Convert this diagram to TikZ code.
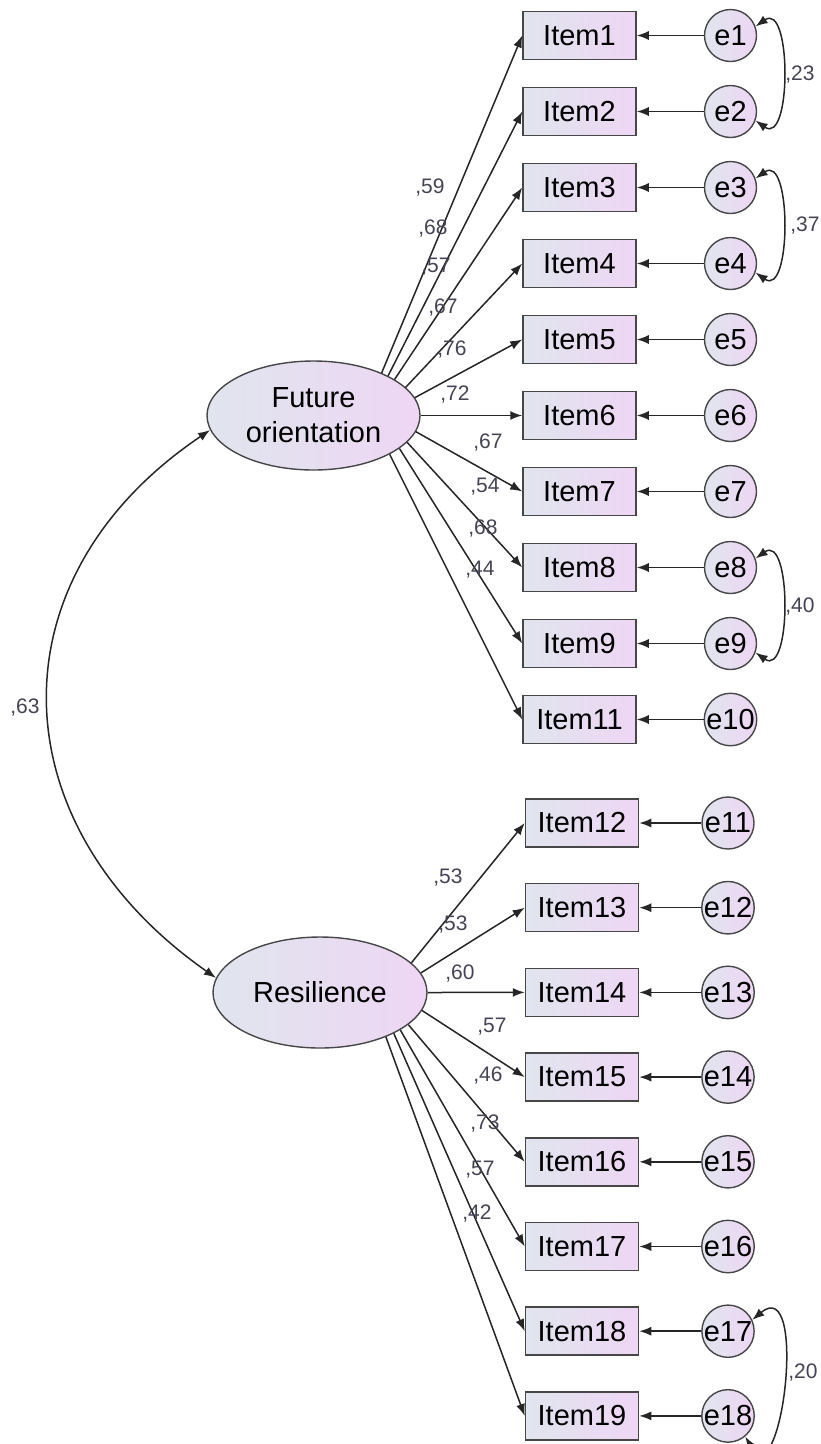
\documentclass[tikz,border=0pt]{standalone}
\usepackage{fontspec}
\setmainfont{Liberation Sans}
\usepackage{tikz}
\usetikzlibrary{positioning}
\usetikzlibrary{arrows.meta}
\usetikzlibrary{shapes.geometric}

\definecolor{shadeL}{RGB}{224,229,238}
\definecolor{shadeR}{RGB}{238,214,244}
\definecolor{coefgray}{RGB}{68,68,84}

\tikzset{
	indic/.style={draw=black!72,line width=1.5pt,left color=shadeL,right color=shadeR,minimum width=113pt,minimum height=48pt,inner sep=0pt,font=\fontsize{29}{34}\selectfont},
	latent/.style={ellipse,draw=black!72,line width=1.4pt,left color=shadeL,right color=shadeR,minimum width=213pt,minimum height=109pt,inner sep=0pt,align=center,font=\fontsize{29}{35}\selectfont},
	resid/.style={circle,draw=black!72,line width=1.4pt,left color=shadeL,right color=shadeR,minimum size=52pt,inner sep=0pt,font=\fontsize{29}{34}\selectfont},
	loading/.style={draw=black!85,line width=1.5pt,-{Latex[length=12pt,width=9pt]}},
	corr/.style={draw=black!85,line width=1.5pt,{Latex[length=12pt,width=9pt]}-{Latex[length=12pt,width=9pt]}},
	coef/.style={text=coefgray,inner sep=0pt,font=\fontsize{21}{24}\selectfont}
}

\begin{document}
\begin{tikzpicture}[x=1pt,y=1pt]
	\useasboundingbox (0,0) rectangle (820,-1444);
	\node[latent] (FO) at (313.5,-415.5) {Future\\orientation};
	\node[latent,minimum width=214pt,minimum height=111pt] (Res) at (320,-992.5) {Resilience};
	\foreach \it [count=\k] in {1,2,3,4,5,6,7,8,9,11} {
		\node[indic] (I\it) at (579.5,{-35.5-76*(\k-1)}) {Item\it};
		\node[resid] (e\k) at (730.5,{-35.5-76*(\k-1)}) {e\k};
		\draw[loading] (e\k) -- (I\it);
	}
	\foreach \it [count=\k from 11] in {12,...,19} {
		\node[indic] (I\it) at (582,{-823-84.7*(\k-11)}) {Item\it};
		\node[resid] (e\k) at (728,{-823-84.7*(\k-11)}) {e\k};
		\draw[loading] (e\k) -- (I\it);
	}
	\foreach \it/\ang/\val/\lx/\ly in {1/32/59/430/188,2/28/68/433/229,3/24/57/436/267,4/17/67/443/308,5/10/76/452/350,6/0/72/455/395,7/-9/67/488/443,8/-16/54/485/487,9/-21/68/483/529,11/-27/44/480/570} {
		\draw[loading] (FO.\ang) -- (I\it.west);
		\node[coef] (c\it) at (\lx,-\ly) {,\val};
	}
	\foreach \it/\ang/\val/\lx/\ly in {12/18/53/448/877,13/11/53/453/924,14/0/60/460/973,15/-10/57/492/1027,16/-20/46/488/1075,17/-25/73/485/1123,18/-29.5/57/480/1170,19/-34/42/477/1213} {
		\draw[loading] (Res.\ang) -- (I\it.west);
		\node[coef] (c\it) at (\lx,-\ly) {,\val};
	}
	\draw[corr] (FO.188) to[out=214,in=145,looseness=1.24] (Res.172);
	\node[coef] (r0) at (25,-707) {,63};
	\draw[corr] (e1.20) to[out=35,in=-35,looseness=1.2] (e2.-20);
	\node[coef] (r1) at (800,-75) {,23};
	\draw[corr] (e3.20) to[out=35,in=-35,looseness=1.2] (e4.-20);
	\node[coef] (r2) at (805,-226) {,37};
	\draw[corr] (e8.20) to[out=35,in=-35,looseness=1.2] (e9.-20);
	\node[coef] (r3) at (800,-607) {,40};
	\draw[corr] (e17.25) to[out=40,in=-60,looseness=1.6] (e18.-50);
	\node[coef] (r4) at (803,-1372) {,20};
\end{tikzpicture}
\end{document}
